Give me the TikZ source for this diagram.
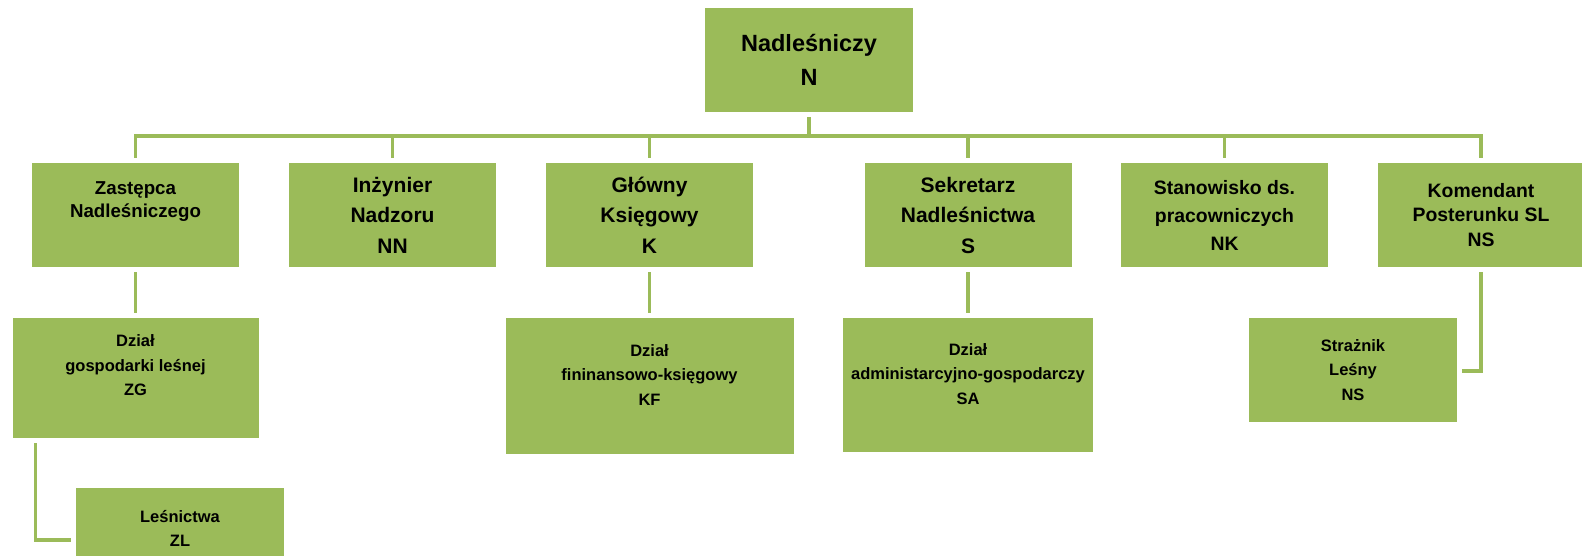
\documentclass[tikz,border=0pt]{standalone}
\usepackage{fontspec}
\setmainfont{Liberation Sans}
\usetikzlibrary{calc}
\definecolor{boxgreen}{HTML}{9BBB59}
\begin{document}
\begin{tikzpicture}[x=1pt,y=-1pt,
  box/.style={fill=boxgreen, draw=none, inner sep=0pt, align=center,
    minimum width=207pt, minimum height=104pt, text=black},
  fTop/.style={font=\bfseries\fontsize{23.5}{34}\selectfont},
  fMid/.style={font=\bfseries\fontsize{21}{30.5}\selectfont},
  fLow/.style={font=\bfseries\fontsize{16.5}{24.5}\selectfont},
  conn/.style={draw=boxgreen, line width=3.2pt}]
\useasboundingbox (0,0) rectangle (1582,556);
\clip (0,0) rectangle (1582,556);

% top
\node[box, fTop, minimum width=208pt] (n) at (809,60) {Nadleśniczy\\N};

% second row
\node[box, font=\bfseries\fontsize{18.7}{23}\selectfont] (zn) at (135.5,215) {Zastępca\\Nadleśniczego\\\strut};
\node[box, fMid] (nn) at (392.5,215) {Inżynier\\Nadzoru\\NN};
\node[box, fMid] (k) at (649.5,215) {Główny\\Księgowy\\K};
\node[box, fMid] (s) at (968,215) {Sekretarz\\Nadleśnictwa\\S};
\node[box, font=\bfseries\fontsize{19.4}{28}\selectfont] (nk) at (1224.5,215) {Stanowisko ds.\\pracowniczych\\NK};
\node[box, font=\bfseries\fontsize{19.4}{24.5}\selectfont] (ns) at (1481,215) {Komendant\\Posterunku SL\\NS};

% third row
\node[box, fLow, minimum width=246pt, minimum height=120pt] (zg) at (135.5,378) {Dział\\gospodarki leśnej\\ZG\\[-6pt]\strut};
\node[box, fLow, minimum width=288pt, minimum height=136pt] (kf) at (649.5,386) {Dział\\fininansowo-księgowy\\KF\\[-9pt]\strut};
\node[box, fLow, minimum width=250pt, minimum height=134pt] (sa) at (968,385) {Dział\\administarcyjno-gospodarczy\\SA\\[-9pt]\strut};
\node[box, fLow, minimum width=208pt] (sl) at (1353,370) {Strażnik\\Leśny\\NS};
\node[box, fLow, minimum width=208pt] (zl) at (180,540) {Leśnictwa\\ZL\\[-9pt]\strut};

% connectors
\coordinate (bus) at (809,136);
\draw[conn] ($(n.south)+(0,5)$) -- (bus);
\draw[conn] ($(zn.north)+(0,-5)$) |- (bus) -| ($(ns.north)+(0,-5)$);
\foreach \c in {nn,k,s,nk}
  \draw[conn] (\c.north |- bus) -- ($(\c.north)+(0,-5)$);
\draw[conn] ($(zn.south)+(0,5)$) -- ($(zg.north)+(0,-5)$);
\draw[conn] ($(k.south)+(0,5)$) -- ($(kf.north)+(0,-5)$);
\draw[conn] ($(s.south)+(0,5)$) -- ($(sa.north)+(0,-5)$);
\draw[conn] ($(zg.south west)+(23.5,5)$) |- ($(zl.west)+(-5,0)$);
\draw[conn] ($(ns.south)+(0,5)$) |- ($(sl.east)+(5,1)$);
\end{tikzpicture}
\end{document}
